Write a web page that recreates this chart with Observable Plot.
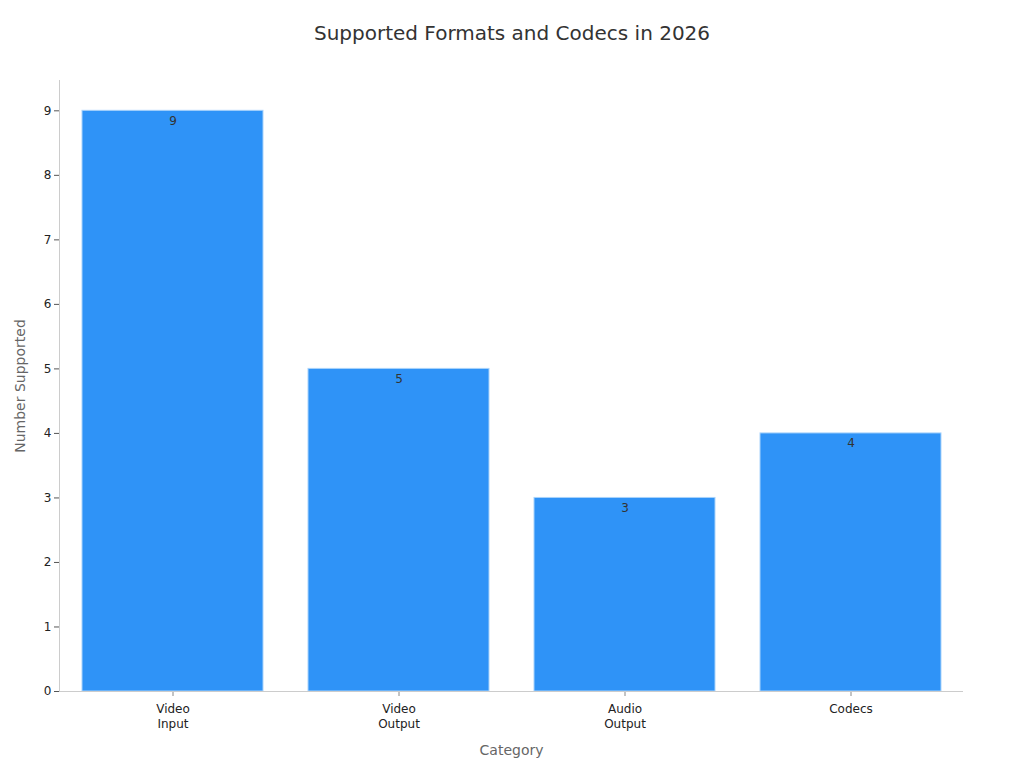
<!DOCTYPE html>
<html><head><meta charset="utf-8">
<script src="https://cdn.jsdelivr.net/npm/d3@7"></script>
<script src="https://cdn.jsdelivr.net/npm/@observablehq/plot@0.6"></script>
<style>
html,body{margin:0;padding:0;background:#fff;font-family:"DejaVu Sans",sans-serif;}
#title{height:60px;line-height:66px;text-align:center;font-size:20px;color:#333;}
</style></head><body>
<div id="title">Supported Formats and Codecs in 2026</div>
<div id="chart"></div>
<script>
const categories = ["Video\nInput", "Video\nOutput", "Audio\nOutput", "Codecs"];
const values = [9, 5, 3, 4];
const yTicks = [0,1,2,3,4,5,6,7,8,9];
const data = categories.map((c,i)=>({category:c, value:values[i]}));
const chart = Plot.plot({
  width: 1024, height: 708,
  marginTop: 20, marginBottom: 77, marginLeft: 59, marginRight: 61,
  style: {fontFamily: "DejaVu Sans, sans-serif", fontSize: "12px", color: "#222"},
  x: {domain: categories, paddingInner: 0.2, paddingOuter: 0.1, label: null},
  y: {domain: [0, 9.47], label: null},
  marks: [
    Plot.barY(data, {x:"category", y:"value", fill:"#2f93f7", stroke:"#a9d3fb", strokeWidth:1}),
    Plot.axisY({ticks: yTicks, tickSize: 5, tickPadding: 3, stroke:"#555", label:null}),
    Plot.axisX({tickSize: 5, tickPadding: 6, stroke:"#888", label:null, lineHeight: 1.25}),
    Plot.frame({anchor:"left", stroke:"#ccc"}),
    Plot.ruleY([0], {stroke:"#ccc"}),
    Plot.text(data, {x:"category", y:"value", text: d=>String(d.value), dy: 10, fill:"#333", fontSize: 12}),
    Plot.text(["Number Supported"], {frameAnchor:"left", textAnchor:"middle", dx:-39, rotate:-90, fill:"#666", fontSize:14}),
    Plot.text(["Category"], {frameAnchor:"bottom", dy:63, fill:"#666", fontSize:14})
  ]
});
document.getElementById("chart").appendChild(chart);
</script></body></html>
